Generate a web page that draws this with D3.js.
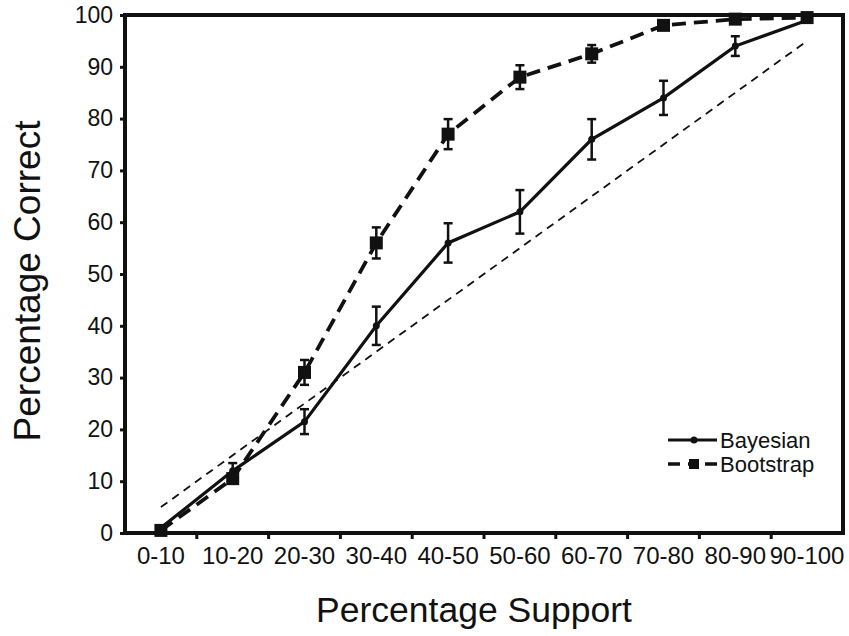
<!DOCTYPE html>
<html>
<head>
<meta charset="utf-8">
<script src="https://cdn.jsdelivr.net/npm/d3@7"></script>
<style>
  body { margin: 0; background: #fff; }
  text { font-family: "Liberation Sans", Arial, Helvetica, sans-serif; fill: #111; }
</style>
</head>
<body>
<div id="chart"></div>
<script>
// Categories and values
const categories = ["0-10", "10-20", "20-30", "30-40", "40-50", "50-60", "60-70", "70-80", "80-90", "90-100"];
const bayesian = [1, 12, 21.5, 40, 56, 62, 76, 84, 94, 99];
const bayesianErr = [0.5, 1.5, 2.4, 3.7, 3.8, 4.2, 3.9, 3.3, 1.9, 0.5];
const bootstrap = [0.5, 10.5, 31, 56, 77, 88, 92.5, 98, 99.2, 99.5];
const bootstrapErr = [0.3, 1, 2.4, 3, 2.9, 2.3, 1.7, 0.8, 0.5, 0.3];
const expected = [5, 95]; // reference diagonal, first to last category
const yTicks = [0, 10, 20, 30, 40, 50, 60, 70, 80, 90, 100];

const width = 849;
const height = 636;
const margin = { top: 15, right: 6, bottom: 103, left: 125 };

const svg = d3.select("#chart")
    .append("svg")
    .attr("width", width)
    .attr("height", height);

const x = d3.scaleBand()
    .domain(categories)
    .range([margin.left, width - margin.right]);

const y = d3.scaleLinear()
    .domain([0, 100])
    .range([height - margin.bottom, margin.top]);

const cx = d => x(d) + x.bandwidth() / 2;

// Y axis
const yAxis = svg.append("g")
    .attr("transform", `translate(${margin.left},0)`)
    .call(d3.axisLeft(y).tickValues(yTicks).tickSize(5).tickPadding(7));
yAxis.select(".domain").remove();
yAxis.selectAll("line").attr("stroke", "#111").attr("stroke-width", 3);
yAxis.selectAll("text").style("font-size", "23px").attr("fill", "#111");

// X axis labels (centered), ticks at the band boundaries
const xAxis = svg.append("g")
    .attr("transform", `translate(0,${y(0)})`)
    .call(d3.axisBottom(x).tickSize(0).tickPadding(14));
xAxis.select(".domain").remove();
xAxis.selectAll("text").style("font-size", "24px").attr("fill", "#111");

svg.append("g")
    .selectAll("line")
    .data(categories.slice(1))
    .join("line")
    .attr("x1", d => x(d))
    .attr("x2", d => x(d))
    .attr("y1", y(0))
    .attr("y2", y(0) + 6)
    .attr("stroke", "#111")
    .attr("stroke-width", 3);

// Frame
svg.append("rect")
    .attr("x", margin.left)
    .attr("y", margin.top)
    .attr("width", width - margin.left - margin.right)
    .attr("height", y(0) - margin.top)
    .attr("fill", "none")
    .attr("stroke", "#111")
    .attr("stroke-width", 4);

// Reference diagonal
svg.append("line")
    .attr("x1", cx(categories[0]))
    .attr("y1", y(expected[0]))
    .attr("x2", cx(categories[categories.length - 1]))
    .attr("y2", y(expected[1]))
    .attr("stroke", "#111")
    .attr("stroke-width", 1.8)
    .attr("stroke-dasharray", "8,6");

const line = d3.line()
    .x(d => cx(d.cat))
    .y(d => y(d.v));

const bootData = categories.map((c, i) => ({ cat: c, v: bootstrap[i], e: bootstrapErr[i] }));
const bayesData = categories.map((c, i) => ({ cat: c, v: bayesian[i], e: bayesianErr[i] }));

// Bootstrap: thick dashed line
svg.append("path")
    .datum(bootData)
    .attr("d", line)
    .attr("fill", "none")
    .attr("stroke", "#111")
    .attr("stroke-width", 3.8)
    .attr("stroke-dasharray", "14,8");

// Bayesian: solid line
svg.append("path")
    .datum(bayesData)
    .attr("d", line)
    .attr("fill", "none")
    .attr("stroke", "#111")
    .attr("stroke-width", 3.2);

// Error bars
function errorBars(data) {
    const g = svg.append("g").attr("stroke", "#111").attr("stroke-width", 2.5);
    data.forEach(d => {
        const xc = cx(d.cat);
        const top = y(d.v + d.e);
        const bot = y(d.v - d.e);
        g.append("line").attr("x1", xc).attr("x2", xc).attr("y1", top).attr("y2", bot);
        g.append("line").attr("x1", xc - 4.5).attr("x2", xc + 4.5).attr("y1", top).attr("y2", top);
        g.append("line").attr("x1", xc - 4.5).attr("x2", xc + 4.5).attr("y1", bot).attr("y2", bot);
    });
}
errorBars(bootData);
errorBars(bayesData);

// Markers
svg.append("g")
    .selectAll("rect")
    .data(bootData)
    .join("rect")
    .attr("x", d => cx(d.cat) - 6.5)
    .attr("y", d => y(d.v) - 6.5)
    .attr("width", 13)
    .attr("height", 13)
    .attr("fill", "#111");

svg.append("g")
    .selectAll("circle")
    .data(bayesData)
    .join("circle")
    .attr("cx", d => cx(d.cat))
    .attr("cy", d => y(d.v))
    .attr("r", 3.5)
    .attr("fill", "#111");

// Legend
const legend = svg.append("g").attr("transform", "translate(668,440)");
legend.append("line")
    .attr("x1", 0).attr("x2", 49).attr("y1", 0).attr("y2", 0)
    .attr("stroke", "#111").attr("stroke-width", 3);
legend.append("circle").attr("cx", 26).attr("cy", 0).attr("r", 3.5).attr("fill", "#111");
legend.append("text").attr("x", 52).attr("y", 8).style("font-size", "22px").text("Bayesian");

legend.append("line")
    .attr("x1", 0).attr("x2", 49).attr("y1", 24).attr("y2", 24)
    .attr("stroke", "#111").attr("stroke-width", 3.5)
    .attr("stroke-dasharray", "12,8,9,8,12");
legend.append("rect").attr("x", 21).attr("y", 19).attr("width", 10).attr("height", 10).attr("fill", "#111");
legend.append("text").attr("x", 52).attr("y", 32).style("font-size", "22px").text("Bootstrap");

// Axis titles
svg.append("text")
    .attr("x", 474)
    .attr("y", 622)
    .attr("text-anchor", "middle")
    .style("font-size", "35.5px")
    .text("Percentage Support");

svg.append("text")
    .attr("transform", "translate(40,281) rotate(-90)")
    .attr("text-anchor", "middle")
    .style("font-size", "37px")
    .text("Percentage Correct");
</script>
</body>
</html>
